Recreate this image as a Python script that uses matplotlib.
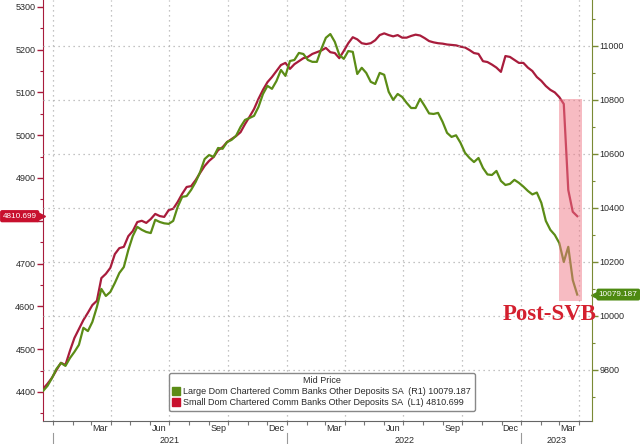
import matplotlib
matplotlib.use("Agg")
import matplotlib.pyplot as plt
import matplotlib.dates as mdates
import matplotlib.transforms as mtransforms
from matplotlib.patches import Rectangle
from matplotlib.lines import Line2D
from matplotlib.ticker import MultipleLocator, FuncFormatter
import pandas as pd

plt.rcParams['font.family'] = ['Liberation Sans', 'DejaVu Sans']

# weekly H.8 readings, $bn
dates = pd.date_range('2020-12-16', periods=120, freq='7D')

small_banks = [
    4407, 4419, 4433, 4451, 4468, 4463, 4496, 4526, 4547, 4568,
    4585, 4603, 4613, 4666, 4676, 4690, 4722, 4736, 4739, 4764,
    4776, 4797, 4800, 4795, 4804, 4816, 4811, 4809, 4825, 4828,
    4844, 4863, 4879, 4881, 4895, 4912, 4928, 4940, 4949, 4965,
    4972, 4984, 4991, 4998, 5007, 5026, 5043, 5061, 5085, 5106,
    5124, 5136, 5150, 5164, 5169, 5155, 5166, 5173, 5180, 5183,
    5190, 5194, 5198, 5204, 5194, 5192, 5180, 5197, 5215, 5229,
    5224, 5215, 5213, 5215, 5222, 5234, 5238, 5234, 5231, 5234,
    5228, 5228, 5232, 5235, 5233, 5227, 5220, 5217, 5215, 5214,
    5212, 5211, 5210, 5207, 5205, 5199, 5192, 5190, 5173, 5171,
    5165, 5158, 5148, 5185, 5183, 5176, 5169, 5169, 5158, 5150,
    5136, 5127, 5115, 5106, 5100, 5089, 5073, 4872, 4821, 4810.699,
]

large_banks = [
    9722, 9741, 9770, 9804, 9826, 9815, 9844, 9867, 9893, 9956,
    9944, 9978, 10033, 10100, 10074, 10089, 10122, 10159, 10181, 10244,
    10296, 10330, 10319, 10311, 10307, 10356, 10348, 10343, 10341, 10352,
    10404, 10441, 10444, 10467, 10496, 10533, 10581, 10596, 10589, 10622,
    10619, 10644, 10652, 10667, 10700, 10726, 10733, 10741, 10774, 10822,
    10852, 10841, 10870, 10911, 10889, 10944, 10948, 10974, 10970, 10948,
    10941, 10941, 10989, 11030, 11044, 11015, 10967, 10952, 10981, 10978,
    10896, 10919, 10900, 10867, 10859, 10900, 10893, 10830, 10800, 10822,
    10811, 10789, 10770, 10770, 10804, 10778, 10750, 10748, 10752, 10719,
    10678, 10663, 10669, 10641, 10604, 10585, 10570, 10585, 10548, 10524,
    10522, 10537, 10500, 10485, 10489, 10504, 10493, 10479, 10463, 10450,
    10457, 10419, 10352, 10319, 10300, 10270, 10200, 10256, 10133, 10079.187,
]

large_name = 'Large Dom Chartered Comm Banks Other Deposits SA'
small_name = 'Small Dom Chartered Comm Banks Other Deposits SA'

years = ['2021', '2022', '2023']
year_mid = ['2021-07-01', '2022-07-02', '2023-02-25']
year_start = ['2021-01-01', '2022-01-01', '2023-01-01']

svb_start, svb_end = '2023-02-28', '2023-04-06'
svb_lo, svb_hi = 10057, 10805

RED = '#a81c3c'
GREEN = '#5b8c16'
RED_BOX = '#c8102e'
GREEN_BOX = '#4e8a12'
TXT = '#2a2a2a'
GRID = '#b0b0b0'

fig = plt.figure(figsize=(6.4, 4.44), dpi=100)
ax = fig.add_axes([43/640, 1 - 421/444, 549/640, 421/444])
ax2 = ax.twinx()

ax.plot(dates, small_banks, color=RED, lw=1.6, zorder=2)
ax2.plot(dates, large_banks, color=GREEN, lw=1.6, zorder=2)

ax.set_xlim(pd.Timestamp('2020-12-16'), pd.Timestamp('2023-04-21'))
ax.set_ylim(4332, 5316)
ax2.set_ylim(9611, 11170)

# y axes (the 4800 label sits under the last-value tag, so leave it blank)
ax.yaxis.set_major_locator(MultipleLocator(100))
ax.yaxis.set_minor_locator(MultipleLocator(50))
ax.yaxis.set_major_formatter(FuncFormatter(lambda v, p: '' if abs(v - 4800) < 1 else '%d' % v))
ax2.yaxis.set_major_locator(MultipleLocator(200))
ax2.yaxis.set_minor_locator(MultipleLocator(100))
ax.tick_params(axis='y', which='major', length=4, width=1, color=RED, labelsize=6.5, labelcolor=TXT, pad=1.5)
ax.tick_params(axis='y', which='minor', length=2, width=0.8, color=RED)
ax2.tick_params(axis='y', which='major', length=4, width=1, color='#7a8a34', labelsize=6.5, labelcolor=TXT, pad=1.5)
ax2.tick_params(axis='y', which='minor', length=2, width=0.8, color='#7a8a34')

# x axis: month ticks, quarter labels mid-month
ax.xaxis.set_minor_locator(mdates.MonthLocator())
ax.xaxis.set_major_locator(mdates.MonthLocator(bymonth=[3, 6, 9, 12], bymonthday=15))
ax.xaxis.set_major_formatter(mdates.DateFormatter('%b'))
ax.tick_params(axis='x', which='major', length=0, labelsize=6.5, labelcolor=TXT, pad=2.5)
ax.tick_params(axis='x', which='minor', length=3, width=0.8, color='#777777')

for sp in ['top', 'right']:
    ax.spines[sp].set_visible(False)
for sp in ['top', 'left', 'bottom']:
    ax2.spines[sp].set_visible(False)
ax.spines['left'].set_color(RED)
ax.spines['bottom'].set_color('#666666')
ax2.spines['right'].set_color('#7a8a34')

# grid
for q in pd.date_range('2021-01-01', '2023-04-01', freq='QS'):
    ax.axvline(q, color=GRID, ls=(0, (1, 3)), lw=0.9, zorder=0)
ax2.set_axisbelow(True)
ax2.grid(axis='y', which='major', color=GRID, ls=(0, (1, 3)), lw=0.9)

# year row
trans = mtransforms.blended_transform_factory(ax.transData, ax.transAxes)
for yr, mid in zip(years, year_mid):
    ax.text(mdates.date2num(pd.Timestamp(mid)), -0.047, yr, transform=trans,
            ha='center', va='center', fontsize=6.5, color=TXT)
for s in year_start:
    x = mdates.date2num(pd.Timestamp(s))
    ax.plot([x, x], [-0.028, -0.08], transform=trans, clip_on=False, color='#999999', lw=0.8)

# post-SVB shading
x0 = mdates.date2num(pd.Timestamp(svb_start))
x1 = mdates.date2num(pd.Timestamp(svb_end))
ax2.add_patch(Rectangle((x0, svb_lo), x1 - x0, svb_hi - svb_lo, facecolor='#f07887',
                        alpha=0.5, edgecolor='none', zorder=5))
ax2.text(0.9226, 0.253, 'Post-SVB', transform=ax2.transAxes, ha='center', va='center',
         fontsize=16.5, fontweight='bold', family='Liberation Serif', color='#d4202f',
         clip_on=False, zorder=10)

# last value tags
tl = mtransforms.blended_transform_factory(ax.transAxes, ax.transData)
ax.text(-0.0115, small_banks[-1], '%.3f' % small_banks[-1], transform=tl, ha='right', va='center',
        fontsize=5.9, color='white', clip_on=False,
        bbox=dict(boxstyle='round,pad=0.32,rounding_size=0.25', fc=RED_BOX, ec='none'))
ax.plot([-0.004], [small_banks[-1]], transform=tl, marker='>', ms=6, color=RED_BOX, clip_on=False)

tr = mtransforms.blended_transform_factory(ax2.transAxes, ax2.transData)
ax2.text(1.0125, large_banks[-1], '%.3f' % large_banks[-1], transform=tr, ha='left', va='center',
         fontsize=5.9, color='white', clip_on=False, zorder=10,
         bbox=dict(boxstyle='round,pad=0.3,rounding_size=0.25', fc=GREEN_BOX, ec='none'))
ax2.plot([1.006], [large_banks[-1]], transform=tr, marker='<', ms=6, color=GREEN_BOX, clip_on=False)

# legend
handles = [Line2D([], [], marker='s', ls='none', color=GREEN, ms=6),
           Line2D([], [], marker='s', ls='none', color=RED_BOX, ms=6)]
labels = ['%s  (R1) %.3f' % (large_name, large_banks[-1]),
          '%s  (L1) %.3f' % (small_name, small_banks[-1])]
leg = ax2.legend(handles, labels, title='Mid Price', loc='lower center',
                 bbox_to_anchor=(0.508, 0.014), fontsize=6.5, title_fontsize=6.5,
                 frameon=True, fancybox=True, edgecolor='#888888', framealpha=1,
                 handlelength=0.8, handletextpad=0.4, borderpad=0.4, labelspacing=0.2)
leg.get_title().set_color(TXT)
for t in leg.get_texts():
    t.set_color(TXT)
leg.set_zorder(20)

fig.savefig('out.png', dpi=100)
